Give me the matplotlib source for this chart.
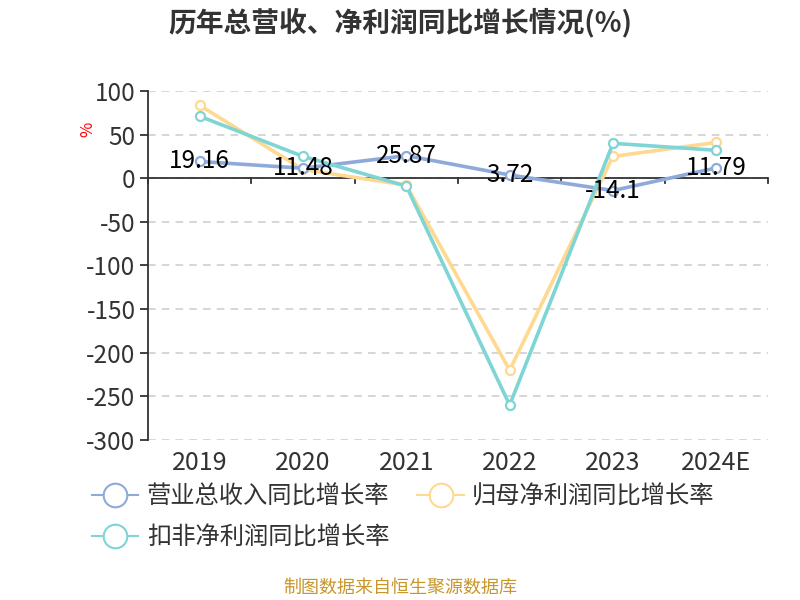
import matplotlib
matplotlib.use("Agg")
import matplotlib.pyplot as plt
from matplotlib.lines import Line2D

plt.rcParams['font.family'] = ['Noto Sans CJK SC', 'DejaVu Sans']

categories = ["2019", "2020", "2021", "2022", "2023", "2024E"]
revenue_growth = [19.16, 11.48, 25.87, 3.72, -14.1, 11.79]
net_profit_growth = [83.5, 10.0, -8.0, -220.0, 25.0, 41.0]
deducted_profit_growth = [71.0, 25.0, -9.0, -260.0, 40.0, 32.0]
series_names = ["营业总收入同比增长率", "归母净利润同比增长率", "扣非净利润同比增长率"]
y_ticks = [100, 50, 0, -50, -100, -150, -200, -250, -300]

colors = ["#8eaadb", "#ffd98f", "#7fd5d5"]

fig = plt.figure(figsize=(8, 6), dpi=100)
ax = fig.add_axes([0.185, 0.2667, 0.775, 0.5817])

x = list(range(len(categories)))
series = [revenue_growth, net_profit_growth, deducted_profit_growth]
handles = []
for vals, c, name, z in zip(series, colors, series_names, [3, 2, 4]):
    ax.plot(x, vals, color=c, lw=2.6, marker='o', markersize=6.5,
            markerfacecolor='white', markeredgecolor=c, markeredgewidth=1.6,
            zorder=z)
    handles.append(Line2D([0], [0], color=c, lw=1.5, marker='o', markersize=17,
                          markerfacecolor='white', markeredgecolor=c,
                          markeredgewidth=1.5))

for xi, v in zip(x, revenue_growth):
    ax.text(xi, v, f"{v:g}", ha='center', va='center', fontsize=17.5,
            color='black', zorder=6)

ax.set_xlim(-0.5, len(categories) - 0.5)
ax.set_ylim(-300, 100)
ax.set_yticks(y_ticks)
ax.set_yticklabels([str(t) for t in y_ticks], fontsize=17.5, color='#333333')
ax.grid(axis='y', color='#cccccc', linestyle=(0, (5, 4)), lw=1.1)
ax.set_axisbelow(True)

for s in ['top', 'right', 'bottom']:
    ax.spines[s].set_visible(False)
ax.spines['left'].set_color('#333333')
ax.spines['left'].set_linewidth(1.3)
ax.tick_params(axis='y', length=6, width=1.3, color='#333333', pad=3)

# zero axis line with boundary ticks
ax.axhline(0, color='#333333', lw=1.3, zorder=1)
for b in [i - 0.5 for i in range(len(categories) + 1)]:
    ax.plot([b, b], [0, -6], color='#333333', lw=1.3, clip_on=False, zorder=1)

ax.set_xticks(x)
ax.set_xticklabels(categories, fontsize=18, color='#333333')
ax.tick_params(axis='x', length=0, pad=7)

fig.text(0.11, 0.785, "%", color='red', fontsize=12, rotation=90,
         ha='center', va='center')

fig.text(0.5, 0.963, "历年总营收、净利润同比增长情况(%)", ha='center', va='center',
         fontsize=20, fontweight='bold', color='#333333')

order = [0, 2, 1]
leg = fig.legend([handles[i] for i in order], [series_names[i] for i in order],
                 loc='upper left', bbox_to_anchor=(0.088, 0.23), ncol=2,
                 frameon=False, fontsize=17.5, handlelength=1.9,
                 handletextpad=0.35, columnspacing=1.15, labelspacing=0.6)
for t in leg.get_texts():
    t.set_color('#333333')

fig.text(0.5, 0.02, "制图数据来自恒生聚源数据库", ha='center', va='center',
         fontsize=13, color='#c8962a')

fig.savefig("out.png", dpi=100)
